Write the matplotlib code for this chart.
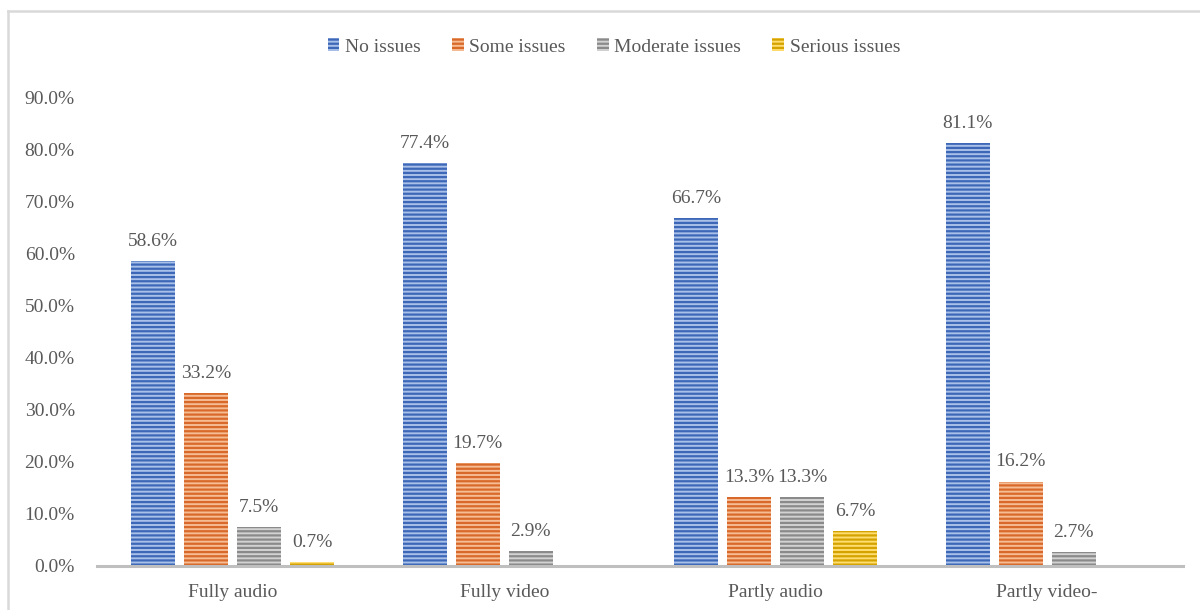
import numpy as np
import matplotlib
matplotlib.use("Agg")
import matplotlib.pyplot as plt
from matplotlib.lines import Line2D
from matplotlib.ticker import FuncFormatter

categories = ["Fully audio", "Fully video", "Partly audio", "Partly video-"]
series_names = ["No issues", "Some issues", "Moderate issues", "Serious issues"]
no_issues = [58.6, 77.4, 66.7, 81.1]
some_issues = [33.2, 19.7, 13.3, 16.2]
moderate_issues = [7.5, 2.9, 13.3, 2.7]
serious_issues = [0.7, 0.0, 6.7, 0.0]
yticks = [0, 10, 20, 30, 40, 50, 60, 70, 80, 90]

face_colors = ["#A9C0E8", "#F6BC94", "#D2D2D2", "#FFDD70"]
stripe_colors = ["#3D68B8", "#D8692A", "#8A8A8A", "#D4A300"]

plt.rcParams['font.family'] = ['Liberation Serif', 'DejaVu Serif']
plt.rcParams['hatch.linewidth'] = 1.6
text_color = "#595959"
fs = 14

fig = plt.figure(figsize=(12, 6.1), dpi=100)
ax = fig.add_axes([97/1200, 44/610, (1183-97)/1200, (566-97)/610])

data = [no_issues, some_issues, moderate_issues, serious_issues]
x = np.arange(len(categories))
width = 0.162
step = 0.195
handles = []
for i, vals in enumerate(data):
    pos = x + (i - 1.5) * step
    bars = ax.bar(pos, vals, width=width, color=face_colors[i], edgecolor=stripe_colors[i],
                  hatch='----', linewidth=0.0, label=series_names[i], zorder=2)
    handles.append(bars)
    for p, v in zip(pos, vals):
        if v > 0:
            ax.annotate(f"{v:.1f}%", (p, v), xytext=(0, 8), textcoords="offset points",
                        ha="center", va="bottom", fontsize=fs, color=text_color)

ax.set_xlim(-0.5, 3.5)
ax.set_ylim(0, 90)
ax.set_yticks(yticks)
ax.yaxis.set_major_formatter(FuncFormatter(lambda v, _: f"{v:.1f}%"))
ax.set_xticks(x)
ax.set_xticklabels(categories)
for s in ["top", "right", "left"]:
    ax.spines[s].set_visible(False)
ax.spines["bottom"].set_color("#BFBFBF")
ax.spines["bottom"].set_linewidth(2.2)
ax.spines["bottom"].set_zorder(3)
ax.tick_params(axis="both", length=0, labelsize=fs, colors=text_color)
ax.tick_params(axis="y", pad=16)
ax.tick_params(axis="x", pad=13)

leg = fig.legend(handles=handles, loc="center", bbox_to_anchor=(614/1200, 1 - 47/610), ncol=4,
                 frameon=False, fontsize=fs, handlelength=0.6, handleheight=0.6,
                 handletextpad=0.3, columnspacing=1.6, labelcolor=text_color)

# chart border
fig.add_artist(Line2D([8/1200, 8/1200], [0, 1 - 11/610], color="#D9D9D9", lw=1.8, transform=fig.transFigure))
fig.add_artist(Line2D([8/1200, 1], [1 - 11/610, 1 - 11/610], color="#D9D9D9", lw=1.8, transform=fig.transFigure))

fig.savefig("out.png", dpi=100, facecolor="white")
